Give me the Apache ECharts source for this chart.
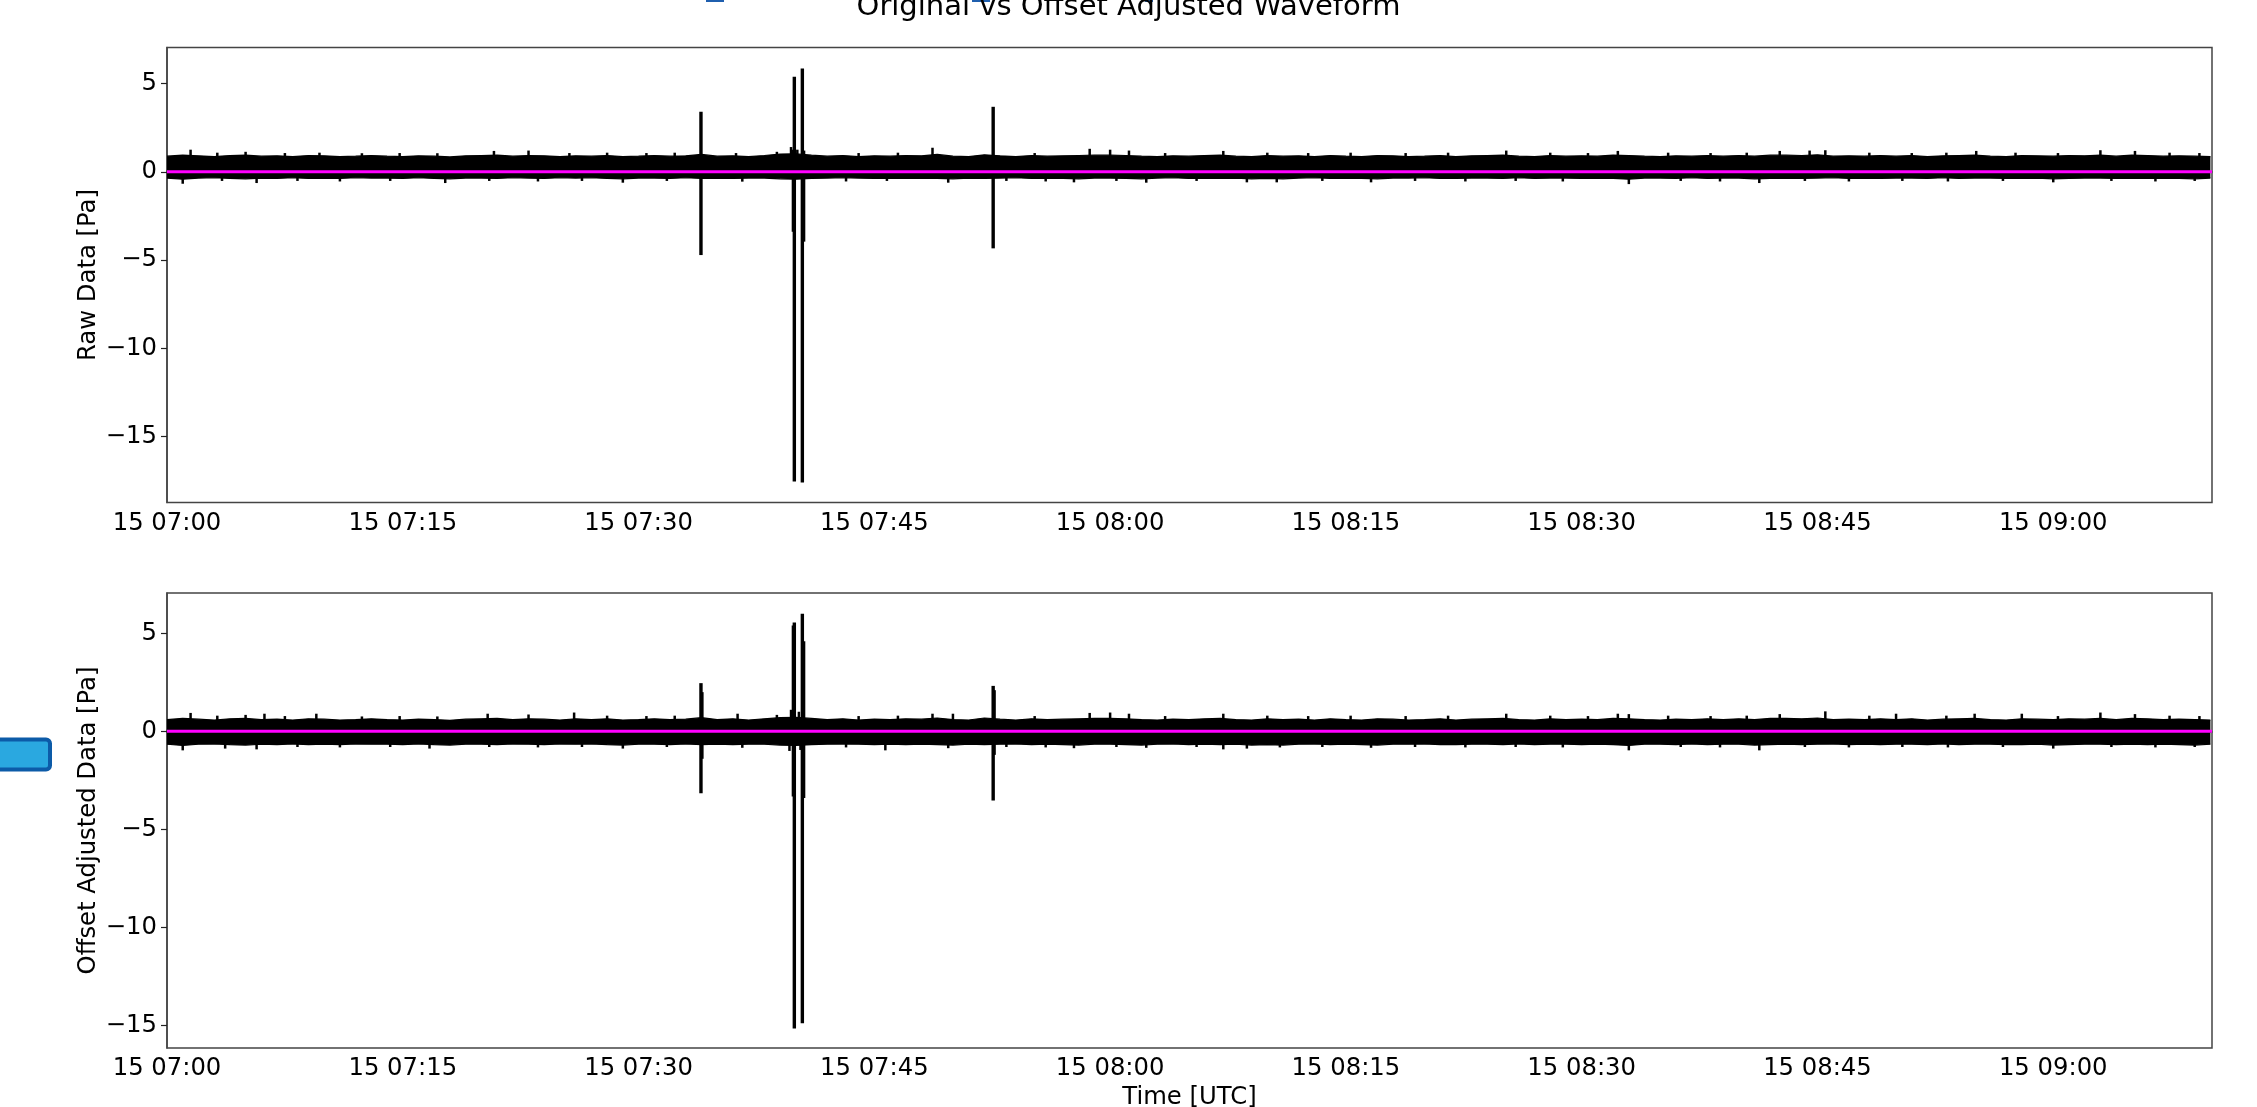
<!DOCTYPE html>
<html>
<head>
<meta charset="utf-8">
<script src="https://cdn.jsdelivr.net/npm/echarts@6/dist/echarts.min.js"></script>
<style>
  html, body { margin: 0; padding: 0; background: #fff; }
  #chart { width: 2257px; height: 1107px; }
</style>
</head>
<body>
<div id="chart"></div>
<script>
// minutes after 15 07:00 UTC, one sample per minute (envelope of the noise band)
var rawHi = [
  0.88, 0.94, 0.90, 0.86, 0.92, 0.94, 0.88, 0.90, 0.86, 0.92,
  0.90, 0.86, 0.88, 0.92, 0.88, 0.86, 0.90, 0.88, 0.84, 0.90,
  0.92, 0.94, 0.88, 0.92, 0.90, 0.86, 0.90, 0.88, 0.92, 0.86,
  0.88, 0.92, 0.88, 0.90, 0.98, 0.88, 0.90, 0.86, 0.92, 1.00,
  1.02, 0.94, 0.88, 0.92, 0.86, 0.90, 0.88, 0.92, 0.90, 0.98,
  0.88, 0.86, 0.96, 0.90, 0.86, 0.92, 0.88, 0.90, 0.92, 0.94,
  0.94, 0.92, 0.88, 0.86, 0.90, 0.88, 0.92, 0.94, 0.88, 0.86,
  0.92, 0.88, 0.90, 0.86, 0.92, 0.88, 0.86, 0.92, 0.90, 0.86,
  0.88, 0.92, 0.86, 0.90, 0.92, 0.94, 0.88, 0.86, 0.92, 0.88,
  0.90, 0.88, 0.94, 0.92, 0.88, 0.86, 0.90, 0.88, 0.92, 0.88,
  0.92, 0.88, 0.94, 0.94, 0.92, 0.96, 0.88, 0.90, 0.88, 0.92,
  0.88, 0.92, 0.86, 0.90, 0.92, 0.94, 0.88, 0.86, 0.92, 0.90,
  0.88, 0.92, 0.90, 0.94, 0.88, 0.94, 0.92, 0.88, 0.90, 0.88, 0.86
];
var rawLo = [
  -0.36, -0.42, -0.36, -0.34, -0.38, -0.40, -0.36, -0.38, -0.34, -0.38,
  -0.36, -0.38, -0.34, -0.36, -0.36, -0.38, -0.34, -0.38, -0.40, -0.36,
  -0.36, -0.38, -0.34, -0.36, -0.38, -0.34, -0.36, -0.34, -0.38, -0.40,
  -0.36, -0.36, -0.38, -0.34, -0.38, -0.36, -0.38, -0.36, -0.36, -0.40,
  -0.42, -0.38, -0.36, -0.34, -0.36, -0.38, -0.36, -0.38, -0.36, -0.38,
  -0.40, -0.36, -0.38, -0.36, -0.34, -0.38, -0.36, -0.38, -0.40, -0.36,
  -0.36, -0.38, -0.40, -0.36, -0.34, -0.38, -0.36, -0.38, -0.36, -0.40,
  -0.38, -0.40, -0.36, -0.34, -0.38, -0.36, -0.38, -0.40, -0.36, -0.36,
  -0.34, -0.38, -0.38, -0.36, -0.36, -0.38, -0.34, -0.38, -0.36, -0.36,
  -0.38, -0.36, -0.38, -0.42, -0.36, -0.36, -0.38, -0.34, -0.38, -0.36,
  -0.36, -0.40, -0.38, -0.36, -0.38, -0.36, -0.34, -0.38, -0.36, -0.38,
  -0.36, -0.36, -0.38, -0.34, -0.38, -0.36, -0.36, -0.38, -0.38, -0.36,
  -0.40, -0.38, -0.36, -0.36, -0.38, -0.36, -0.38, -0.36, -0.38, -0.40, -0.36
];
var adjHi = [
  0.60, 0.66, 0.62, 0.58, 0.64, 0.66, 0.60, 0.62, 0.58, 0.64,
  0.62, 0.58, 0.60, 0.64, 0.60, 0.58, 0.62, 0.60, 0.56, 0.62,
  0.64, 0.66, 0.60, 0.64, 0.62, 0.58, 0.64, 0.60, 0.64, 0.58,
  0.60, 0.64, 0.60, 0.62, 0.70, 0.60, 0.64, 0.58, 0.64, 0.70,
  0.72, 0.66, 0.60, 0.64, 0.58, 0.62, 0.60, 0.64, 0.62, 0.68,
  0.60, 0.58, 0.68, 0.62, 0.58, 0.64, 0.60, 0.62, 0.64, 0.66,
  0.66, 0.64, 0.60, 0.58, 0.62, 0.60, 0.64, 0.66, 0.60, 0.58,
  0.64, 0.60, 0.62, 0.58, 0.64, 0.60, 0.58, 0.64, 0.62, 0.58,
  0.60, 0.64, 0.58, 0.62, 0.64, 0.66, 0.60, 0.58, 0.64, 0.60,
  0.62, 0.60, 0.66, 0.64, 0.60, 0.58, 0.62, 0.60, 0.64, 0.60,
  0.64, 0.60, 0.66, 0.66, 0.64, 0.68, 0.60, 0.62, 0.60, 0.64,
  0.60, 0.64, 0.58, 0.62, 0.64, 0.66, 0.60, 0.58, 0.64, 0.62,
  0.60, 0.64, 0.62, 0.66, 0.60, 0.66, 0.64, 0.60, 0.62, 0.60, 0.58
];
var adjLo = [
  -0.66, -0.72, -0.66, -0.64, -0.68, -0.70, -0.66, -0.68, -0.64, -0.68,
  -0.66, -0.68, -0.64, -0.66, -0.66, -0.68, -0.64, -0.68, -0.70, -0.66,
  -0.66, -0.68, -0.64, -0.66, -0.68, -0.64, -0.66, -0.64, -0.68, -0.70,
  -0.66, -0.66, -0.68, -0.64, -0.68, -0.66, -0.68, -0.66, -0.66, -0.70,
  -0.72, -0.68, -0.66, -0.64, -0.66, -0.68, -0.66, -0.68, -0.66, -0.68,
  -0.70, -0.66, -0.68, -0.66, -0.64, -0.68, -0.66, -0.68, -0.70, -0.66,
  -0.66, -0.68, -0.70, -0.66, -0.64, -0.68, -0.66, -0.68, -0.66, -0.70,
  -0.68, -0.70, -0.66, -0.64, -0.68, -0.66, -0.68, -0.70, -0.66, -0.66,
  -0.64, -0.68, -0.68, -0.66, -0.66, -0.68, -0.64, -0.68, -0.66, -0.66,
  -0.68, -0.66, -0.68, -0.72, -0.66, -0.66, -0.68, -0.64, -0.68, -0.66,
  -0.66, -0.70, -0.68, -0.66, -0.68, -0.66, -0.64, -0.68, -0.66, -0.68,
  -0.66, -0.66, -0.68, -0.64, -0.68, -0.66, -0.66, -0.68, -0.68, -0.66,
  -0.70, -0.68, -0.66, -0.66, -0.68, -0.66, -0.68, -0.66, -0.68, -0.70, -0.66
];

// short noise peaks sticking out of the band: [minute, value]
var rawTuftsUp = [
  [1.5, 1.25], [3.2, 1.08], [5, 1.13], [7.5, 1.06], [9.7, 1.08], [12.4, 1.05], [14.8, 1.06],
  [17.2, 1.05], [20.8, 1.18], [23, 1.2], [25.6, 1.06], [28, 1.08], [30.5, 1.06], [32.3, 1.08],
  [36.2, 1.06], [38.8, 1.13], [39.7, 1.4], [40.1, 1.25], [44, 1.06], [46.5, 1.08], [48.7, 1.36],
  [55.2, 1.06], [58.7, 1.3], [60, 1.25], [61.2, 1.2], [63.5, 1.06], [67.2, 1.18], [70, 1.08],
  [72.6, 1.06], [75.3, 1.08], [78.8, 1.06], [81.5, 1.08], [85.2, 1.2], [88, 1.08], [90.4, 1.06],
  [92.3, 1.18], [95.5, 1.08], [98.2, 1.06], [100.5, 1.08], [102.6, 1.18], [104.5, 1.2],
  [105.5, 1.22], [108.3, 1.08], [111, 1.06], [113.2, 1.08], [115.1, 1.18], [117.6, 1.08],
  [120.3, 1.06], [123, 1.22], [125.2, 1.18], [127.4, 1.08], [129.3, 1.06]
];
var rawTuftsDown = [
  [1, -0.68], [3.5, -0.52], [5.7, -0.64], [8.3, -0.52], [11, -0.55], [14.2, -0.52], [17.7, -0.64],
  [20.5, -0.52], [23.6, -0.55], [26.4, -0.52], [29, -0.62], [31.8, -0.52], [36.6, -0.56],
  [43.2, -0.55], [45.8, -0.52], [49.7, -0.62], [53.4, -0.52], [55.9, -0.55], [57.7, -0.6],
  [60.4, -0.52], [62.3, -0.62], [65.5, -0.52], [68.7, -0.6], [70.6, -0.6], [73.5, -0.52],
  [76.6, -0.6], [79.4, -0.52], [82.6, -0.55], [85.8, -0.52], [88.8, -0.55], [93, -0.7],
  [96.3, -0.52], [98.8, -0.55], [101.3, -0.64], [104.2, -0.52], [107, -0.55], [110.4, -0.52],
  [113.3, -0.55], [116.8, -0.52], [120, -0.6], [123.7, -0.52], [126.5, -0.55], [129, -0.52]
];
var adjTuftsUp = [
  [1.5, 0.94], [3.2, 0.8], [5, 0.84], [6.2, 0.9], [7.5, 0.78], [9.5, 0.9], [12.4, 0.76],
  [14.8, 0.78], [17.2, 0.76], [20.4, 0.9], [23, 0.86], [25.9, 0.96], [28, 0.8], [30.5, 0.78],
  [32.3, 0.8], [36.3, 0.9], [38.8, 0.84], [39.7, 1.1], [40.2, 1.0], [44, 0.78], [46.5, 0.8],
  [48.7, 0.9], [50, 0.9], [55.2, 0.78], [58.7, 0.94], [60, 0.96], [61.2, 0.9], [63.5, 0.78],
  [67.2, 0.9], [70, 0.8], [72.6, 0.78], [75.3, 0.8], [78.8, 0.78], [81.5, 0.8], [85.2, 0.9],
  [88, 0.8], [90.4, 0.78], [92.3, 0.9], [93, 0.88], [95.5, 0.8], [98.2, 0.78], [100.5, 0.8],
  [102.6, 0.88], [105.5, 1.02], [108.3, 0.8], [110, 0.9], [113.2, 0.8], [115, 0.9], [118, 0.9],
  [120.3, 0.78], [123, 0.96], [125.2, 0.88], [127.4, 0.8], [129.3, 0.78]
];
var adjTuftsDown = [
  [1, -0.97], [3.7, -0.88], [5.7, -0.92], [8.3, -0.8], [11, -0.82], [14.2, -0.8], [16.7, -0.88],
  [20.5, -0.8], [23.6, -0.82], [26.4, -0.8], [29, -0.88], [31.8, -0.8], [36.6, -0.84],
  [39.6, -1.0], [40.3, -0.95], [43.2, -0.82], [45.7, -0.97], [49.7, -0.86], [53.4, -0.8],
  [55.9, -0.82], [57.7, -0.86], [60.4, -0.8], [62.3, -0.84], [65.5, -0.8], [67.2, -0.92],
  [68.7, -0.88], [70.8, -0.82], [73.5, -0.8], [76.6, -0.84], [79.4, -0.8], [82.6, -0.82],
  [85.8, -0.8], [88.8, -0.82], [93, -0.97], [96.3, -0.8], [98.8, -0.82], [101.3, -0.97],
  [104.2, -0.8], [107, -0.82], [110.4, -0.8], [113.3, -0.82], [116.8, -0.8], [120, -0.88],
  [123.7, -0.8], [126.5, -0.82], [129, -0.8]
];

// large spikes: [minute, low, high]
var rawSpikes = [
  [33.97, -4.72, 3.40],
  [39.85, -3.40, 1.25],
  [39.91, -17.55, 5.38],
  [40.42, -17.60, 5.85],
  [40.50, -3.96, 1.20],
  [52.56, -4.34, 3.68]
];
var adjSpikes = [
  [33.97, -3.16, 2.46],
  [34.03, -1.40, 2.00],
  [39.85, -3.33, 5.40],
  [39.91, -15.16, 5.56],
  [40.42, -14.90, 6.00],
  [40.50, -3.40, 4.60],
  [52.56, -3.53, 2.32],
  [52.62, -1.20, 2.10]
];

// magenta zero line
var baseline = [[0, 0], [130.1, 0]];

var xTicks = [0, 15, 30, 45, 60, 75, 90, 105, 120];
var xTickLabels = ["15 07:00", "15 07:15", "15 07:30", "15 07:45", "15 08:00",
                   "15 08:15", "15 08:30", "15 08:45", "15 09:00"];
var yTicks = [-15, -10, -5, 0, 5];

var FONT = "DejaVu Sans";
var FS = 24.3;

function pairs(arr) {
  return arr.map(function (v, i) { return [i, v]; });
}

function tufts(up, down) {
  return up.concat(down).map(function (p) {
    return [p[0], Math.min(0, p[1]), Math.max(0, p[1])];
  });
}

function vlines(width) {
  return function (params, api) {
    var a = api.coord([api.value(0), api.value(1)]);
    var b = api.coord([api.value(0), api.value(2)]);
    return {
      type: "line",
      shape: { x1: a[0], y1: a[1], x2: b[0], y2: b[1] },
      style: { stroke: "#000", lineWidth: width }
    };
  };
}

function xAxisOf(gi, withName) {
  var ax = {
    type: "value",
    gridIndex: gi,
    min: 0,
    max: 130.1,
    axisLine: { show: true, lineStyle: { color: "#444", width: 1.5 } },
    axisTick: { show: true, customValues: xTicks, length: 6, lineStyle: { color: "#222", width: 1.2 } },
    axisLabel: {
      customValues: xTicks,
      margin: 9,
      fontFamily: FONT,
      fontSize: FS,
      color: "#000",
      formatter: function (v) { return xTickLabels[Math.round(v / 15)]; }
    },
    splitLine: { show: false }
  };
  if (withName) {
    ax.name = "Time [UTC]";
    ax.nameLocation = "middle";
    ax.nameGap = 38;
    ax.nameMoveOverlap = false;
    ax.nameTextStyle = { fontFamily: FONT, fontSize: FS, color: "#000" };
  }
  return ax;
}

function yAxisOf(gi, name, min, max) {
  return {
    type: "value",
    gridIndex: gi,
    min: min,
    max: max,
    name: name,
    nameLocation: "middle",
    nameGap: 66,
    nameMoveOverlap: false,
    nameTextStyle: { fontFamily: FONT, fontSize: FS, color: "#000" },
    axisLine: { show: true, lineStyle: { color: "#444", width: 1.5 } },
    axisTick: { show: true, customValues: yTicks, length: 6, lineStyle: { color: "#222", width: 1.2 } },
    axisLabel: {
      customValues: yTicks,
      margin: 10,
      fontFamily: FONT,
      fontSize: FS,
      color: "#000",
      formatter: function (v) { return v < 0 ? "\u2212" + Math.abs(v) : String(v); }
    },
    splitLine: { show: false }
  };
}

function bandSeries(idx, data) {
  return {
    type: "line",
    xAxisIndex: idx,
    yAxisIndex: idx,
    data: pairs(data),
    symbol: "none",
    lineStyle: { color: "#000", width: 1.2 },
    areaStyle: { color: "#000", opacity: 1, origin: 0 },
    z: 2
  };
}

function lineMarks(idx, data, width) {
  return {
    type: "custom",
    xAxisIndex: idx,
    yAxisIndex: idx,
    renderItem: vlines(width),
    data: data,
    encode: { x: 0, y: [1, 2] },
    z: 3
  };
}

function zeroLine(idx) {
  return {
    type: "line",
    xAxisIndex: idx,
    yAxisIndex: idx,
    data: baseline,
    symbol: "none",
    lineStyle: { color: "#ff00ff", width: 3 },
    z: 5
  };
}

var chart = echarts.init(document.getElementById("chart"), null, { renderer: "canvas" });

chart.setOption({
  animation: false,
  backgroundColor: "#fff",
  title: {
    text: "Original vs Offset Adjusted Waveform",
    left: "center",
    top: -12,
    textStyle: { fontFamily: FONT, fontSize: 29, fontWeight: "normal", color: "#000" }
  },
  grid: [
    { left: 167, right: 45, top: 47.5, height: 455, show: true, borderColor: "#444", borderWidth: 1.5,
      containLabel: false, outerBoundsMode: "none" },
    { left: 167, right: 45, top: 593, height: 455, show: true, borderColor: "#444", borderWidth: 1.5,
      containLabel: false, outerBoundsMode: "none" }
  ],
  xAxis: [xAxisOf(0, false), xAxisOf(1, true)],
  yAxis: [
    yAxisOf(0, "Raw Data [Pa]", -18.74, 7.04),
    yAxisOf(1, "Offset Adjusted Data [Pa]", -16.16, 7.06)
  ],
  series: [
    bandSeries(0, rawHi),
    bandSeries(0, rawLo),
    lineMarks(0, tufts(rawTuftsUp, rawTuftsDown), 2.5),
    lineMarks(0, rawSpikes, 3.4),
    zeroLine(0),
    bandSeries(1, adjHi),
    bandSeries(1, adjLo),
    lineMarks(1, tufts(adjTuftsUp, adjTuftsDown), 2.5),
    lineMarks(1, adjSpikes, 3.4),
    zeroLine(1)
  ],
  graphic: [
    // clipped legend handles at the top edge and the button on the left
    { type: "rect", shape: { x: 706, y: 0, width: 18, height: 2 }, style: { fill: "#1f5fae" } },
    { type: "rect", shape: { x: 972, y: 0, width: 18, height: 2 }, style: { fill: "#1f5fae" } },
    { type: "rect", shape: { x: 1145, y: 0, width: 8, height: 2 }, style: { fill: "#1f5fae" } },
    {
      type: "rect",
      shape: { x: -4, y: 739.5, width: 54, height: 30, r: 4 },
      style: { fill: "#2aa8e0", stroke: "#0c5ba8", lineWidth: 4 }
    }
  ]
});
</script>
</body>
</html>
